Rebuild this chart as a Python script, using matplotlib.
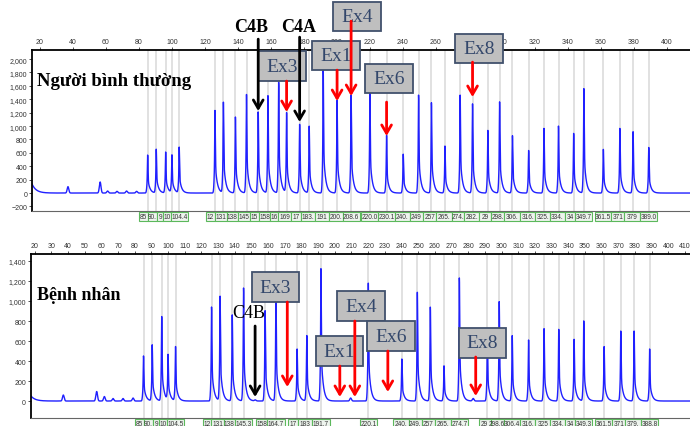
import numpy as np
import matplotlib
matplotlib.use('Agg')
import matplotlib.pyplot as plt
from matplotlib.patches import Rectangle
from matplotlib.ticker import StrMethodFormatter
import matplotlib.transforms as mtransforms

# peak sizes (nt) and heights
sizes_top = [85.3, 90.5, 96.2, 100.0, 104.4, 126.1, 131.2, 138.5, 145.2, 152.3, 158.2, 164.7, 169.5,
             177.4, 183.2, 191.7, 200.1, 208.6, 220.0, 230.1, 240.2, 249.5, 257.3, 265.5, 274.7, 282.2,
             291.5, 298.6, 306.4, 316.2, 325.5, 334.3, 343.5, 349.7, 361.5, 371.5, 379.5, 389.0]
heights_top = [570, 655, 610, 560, 680, 1240, 1350, 1140, 1470, 1215, 1450, 1660, 1195,
               1025, 995, 1840, 1390, 1460, 1500, 865, 580, 1470, 1355, 705, 1470, 1330,
               940, 1360, 855, 635, 970, 1005, 895, 1565, 655, 970, 920, 680]
# size labels as they show in the (overlapping) boxes under the panel
labels_top = ['85', '90.', '9', '10', '104.4', '12', '131', '138', '145', '15', '158', '16', '169',
              '17', '183.', '191', '200.', '208.6', '220.0', '230.1', '240.', '249', '257', '265.', '274.',
              '282.', '29', '298.', '306.', '316.', '325.', '334.', '34', '349.7', '361.5', '371', '379',
              '389.0']

sizes_bot = [85.3, 90.5, 96.2, 100.0, 104.5, 126.1, 131.2, 138.5, 145.3, 158.2, 164.7, 177.4, 183.2,
             191.7, 220.1, 240.2, 249.5, 257.3, 265.5, 274.7, 291.5, 298.6, 306.4, 316.2, 325.5,
             334.3, 343.5, 349.3, 361.5, 371.5, 379.5, 388.8]
heights_bot = [453, 563, 843, 453, 543, 945, 1043, 865, 1135, 903, 1100, 520, 653,
               1330, 1185, 420, 1093, 943, 353, 1237, 650, 993, 653, 610, 727,
               720, 620, 803, 547, 703, 703, 520]
labels_bot = ['85', '90.', '9', '10', '104.5', '12', '131', '138', '145.3', '158', '164.7', '17', '183',
              '191.7', '220.1', '240.', '249.', '257', '265.', '274.7', '29', '298.6', '306.4', '316.',
              '325', '334.', '34', '349.3', '361.5', '371', '379.', '388.8']

# small baseline bumps (size, height)
bumps_top = [(37.0, 95), (56.5, 165), (61.0, 30), (66.7, 25), (72.5, 30), (78.6, 25)]
bumps_bot = [(37.2, 60), (57.2, 95), (61.8, 45), (67.0, 25), (73.0, 25), (79.0, 30),
             (152.3, 10), (209.5, 30), (283.0, 25)]
start_top = 135
start_bot = 50

# annotation boxes
ex_names = ['Ex3', 'Ex1', 'Ex4', 'Ex6', 'Ex8']
ex_top_x = [166.7, 199.4, 212.4, 231.5, 286.1]
ex_top_y = [1896, 2052, 2640, 1709, 2157]
arr_top_x = [169.5, 200.1, 208.6, 230.1, 282.2]
arr_top_tail = [1672, 1836, 2567, 1358, 1955]
arr_top_tip = [1209, 1373, 1448, 851, 1433]

ex_bot_x = [164.5, 202.8, 215.7, 233.7, 288.3]
ex_bot_y = [1140, 500, 950, 650, 585]
arr_bot_x = [171.5, 203.0, 212.0, 231.8, 284.5]
arr_bot_tail = [990, 350, 800, 500, 440]
arr_bot_tip = [140, 40, 40, 90, 50]

c4_top_names = ['C4B', 'C4A']
c4_top_x = [152.3, 177.4]
c4_top_text_x = [147.9, 177.0]
c4_top_tail = [2298, 2328]
c4_top_tip = [1224, 1060]


def peak(x, p, h):
    d = x - p
    left = h * (0.6 * np.exp(-(d / 0.22) ** 2) + 0.4 * np.exp(-(d / 0.6) ** 2))
    dd = np.clip(d, 0, None)
    right = h * (0.6 * np.exp(-(dd / 0.3) ** 2) + 0.4 * np.exp(-dd / 1.2))
    return np.where(d < 0, left, right)


def trace(x, sizes, heights, bumps, start):
    y = start * np.exp(-(x - x[0]) / 2.5)
    for p, h in zip(sizes, heights):
        y = y + peak(x, p, h)
    for p, h in bumps:
        y = y + h * np.exp(-((x - p) / 0.7) ** 2)
    return y


def label_row(ax, sizes, labels, w):
    trans = mtransforms.blended_transform_factory(ax.transData, ax.transAxes)
    for i, (s, lab) in enumerate(zip(sizes, labels)):
        left = s - w / 2
        right = s + w / 2
        if i + 1 < len(sizes):
            right = min(right, sizes[i + 1] - w / 2)
        ax.add_patch(Rectangle((left, -0.062), right - left, 0.056, transform=trans, clip_on=False,
                               fc='#eef4ee', ec='#5cb85c', lw=0.8, zorder=20))
        ax.text((left + right) / 2, -0.034, lab, transform=trans, ha='center', va='center',
                fontsize=4.7, color='#333333', family='Liberation Sans', clip_on=False, zorder=21)


def ex_box(ax, name, x, y, w, h):
    ax.add_patch(Rectangle((x - w / 2, y - h / 2), w, h, fc='#bfbfbf', ec='#41516c', lw=1.3,
                           clip_on=False, zorder=100))
    ax.text(x, y, name, ha='center', va='center', fontsize=14, color='#33476b',
            family='Liberation Serif', clip_on=False, zorder=101)


def arrow(ax, x, tail, tip, color):
    ax.annotate('', xy=(x, tip), xytext=(x, tail), zorder=110, annotation_clip=False,
                arrowprops=dict(arrowstyle='->,head_length=0.6,head_width=0.35', color=color,
                                lw=2, shrinkA=0, shrinkB=0, mutation_scale=10))


def style_axes(ax, xticks, yticks):
    ax.xaxis.tick_top()
    ax.set_xticks(xticks)
    ax.set_yticks(yticks)
    ax.yaxis.set_major_formatter(StrMethodFormatter('{x:,.0f}'))
    ax.tick_params(axis='both', labelsize=5, length=2, width=0.6, pad=1.5, colors='#333333')
    for lab in ax.get_xticklabels() + ax.get_yticklabels():
        lab.set_family('Liberation Sans')
    ax.spines['right'].set_visible(False)
    ax.spines['top'].set_linewidth(1.3)
    ax.spines['left'].set_linewidth(1.3)
    ax.spines['bottom'].set_color('#666666')
    ax.spines['bottom'].set_linewidth(0.8)


fig = plt.figure(figsize=(6.9, 4.27), dpi=100)

# ---- top panel: normal ----
ax1 = fig.add_axes([0.0464, 0.5042, 0.9536, 0.377])
x1 = np.arange(15.2, 414, 0.04)
for s in sizes_top:
    ax1.axvline(s, color='#dcdcdc', lw=1.2, zorder=1)
ax1.plot(x1, trace(x1, sizes_top, heights_top, bumps_top, start_top), color='#2020ff', lw=1.0, zorder=2)
ax1.set_xlim(15.2, 414)
ax1.set_ylim(-264, 2140)
style_axes(ax1, np.arange(20, 401, 20), np.arange(-200, 2001, 200))
label_row(ax1, sizes_top, labels_top, 10.4)
ax1.text(0.008, 0.81, 'Người bình thường', transform=ax1.transAxes, ha='left', va='center',
         fontsize=13.5, fontweight='bold', family='Liberation Serif', zorder=50)

for name, xt, xa, tail, tip in zip(c4_top_names, c4_top_text_x, c4_top_x, c4_top_tail, c4_top_tip):
    ax1.text(xt, 2493, name, ha='center', va='center', fontsize=13, fontweight='bold',
             family='Liberation Serif', clip_on=False)
    arrow(ax1, xa, tail, tip, 'black')
for name, xb, yb in zip(ex_names, ex_top_x, ex_top_y):
    ex_box(ax1, name, xb, yb, 29, 440)
for xa, tail, tip in zip(arr_top_x, arr_top_tail, arr_top_tip):
    arrow(ax1, xa, tail, tip, 'red')

# ---- bottom panel: patient ----
ax2 = fig.add_axes([0.0449, 0.0187, 0.9551, 0.3841])
x2 = np.arange(17.8, 413, 0.04)
for s in sizes_bot:
    ax2.axvline(s, color='#dcdcdc', lw=1.2, zorder=1)
ax2.plot(x2, trace(x2, sizes_bot, heights_bot, bumps_bot, start_bot), color='#2020ff', lw=1.0, zorder=2)
ax2.set_xlim(17.8, 413)
ax2.set_ylim(-170, 1470)
style_axes(ax2, np.arange(20, 411, 10), np.arange(0, 1401, 200))
label_row(ax2, sizes_bot, labels_bot, 10.4)
ax2.text(0.009, 0.756, 'Bệnh nhân', transform=ax2.transAxes, ha='left', va='center',
         fontsize=13, fontweight='bold', family='Liberation Serif', zorder=50)

ax2.text(148.6, 890, 'C4B', ha='center', va='center', fontsize=13, family='Liberation Serif')
arrow(ax2, 152.2, 750, 40, 'black')
for name, xb, yb in zip(ex_names, ex_bot_x, ex_bot_y):
    ex_box(ax2, name, xb, yb, 28.2, 300)
for xa, tail, tip in zip(arr_bot_x, arr_bot_tail, arr_bot_tip):
    arrow(ax2, xa, tail, tip, 'red')

fig.savefig('out.png', dpi=100)
